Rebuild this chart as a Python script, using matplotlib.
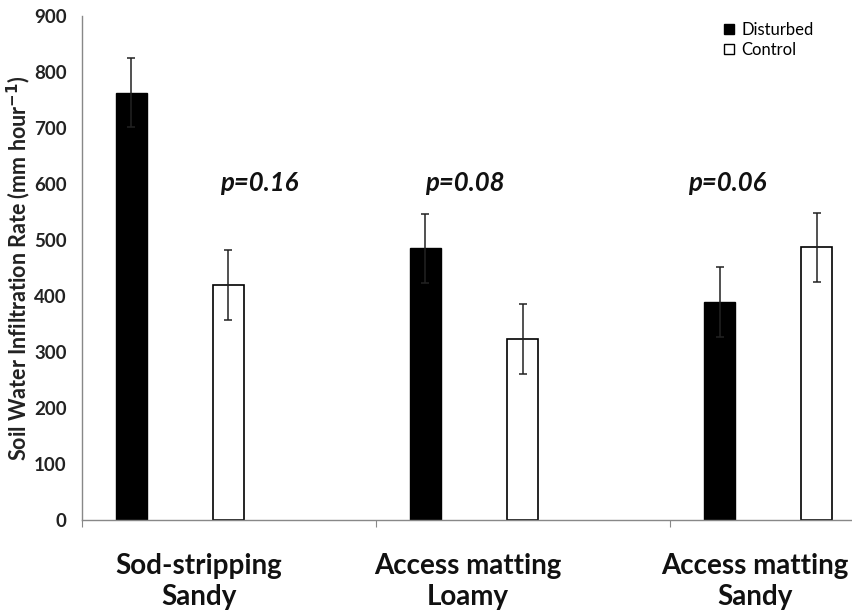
import matplotlib
matplotlib.use("Agg")
import matplotlib.pyplot as plt
from matplotlib.lines import Line2D
import numpy as np

# Treatment / soil groups
categories = ["Sod-stripping\nSandy", "Access matting\nLoamy", "Access matting\nSandy"]
disturbed = [763, 485, 389]
disturbed_err = [62, 61, 63]
control = [420, 323, 487]
control_err = [62, 62, 62]
p_labels = ["p=0.16", "p=0.08", "p=0.06"]

plt.rcParams['font.family'] = ['Lato', 'DejaVu Sans']

fig = plt.figure(figsize=(8.52, 6.14), dpi=100)
ax = fig.add_axes([0.0962, 0.153, 0.904, 0.821])

x = np.arange(len(categories))
offset = 0.165
width = 0.105

err_kw = dict(ecolor='#222222', elinewidth=1.1, capsize=3, capthick=1.1)
ax.bar(x - offset, disturbed, width, yerr=disturbed_err, color='black',
       edgecolor='black', linewidth=1, error_kw=err_kw, zorder=2)
ax.bar(x + offset, control, width, yerr=control_err, color='white',
       edgecolor='black', linewidth=1.2, error_kw=err_kw, zorder=2)

# p-values, placed between the bars of each group
p_x = [0.27, 0.97, 1.86]
for px, label in zip(p_x, p_labels):
    ax.text(px, 602, label, ha='center', va='center', fontsize=18.5,
            fontweight='bold', fontstyle='italic', color='#111111')

ax.set_xlim(-0.333, 2.286)
ax.set_ylim(0, 900)
ax.set_yticks(range(0, 901, 100))
ax.tick_params(axis='y', length=0, pad=11, labelsize=13.5)
for lbl in ax.get_yticklabels():
    lbl.set_fontweight('bold')
    lbl.set_color('#222222')

# tick marks between groups, labels under each group
ax.set_xticks([-0.333, 0.667, 1.667])
ax.set_xticklabels([])
ax.tick_params(axis='x', direction='out', length=5, color='#888888')
label_x = [0.065, 0.98, 1.956]
for lx, cat in zip(label_x, categories):
    ax.text(lx, -0.066, cat, transform=ax.get_xaxis_transform(), ha='center',
            va='top', fontsize=20, fontweight='bold', color='#111111',
            linespacing=1.2)

for side in ['top', 'right']:
    ax.spines[side].set_visible(False)
for side in ['left', 'bottom']:
    ax.spines[side].set_color('#888888')
    ax.spines[side].set_linewidth(1)

ax.set_ylabel('Soil Water Infiltration Rate (mm hour$^{\\mathbf{-1}}$)',
              fontsize=15.5, fontweight='bold', color='#222222')
ax.yaxis.set_label_coords(-0.064, 0.5)

handles = [
    Line2D([], [], marker='s', linestyle='none', markersize=6.5,
           markerfacecolor='black', markeredgecolor='black'),
    Line2D([], [], marker='s', linestyle='none', markersize=6.5,
           markerfacecolor='white', markeredgecolor='black'),
]
ax.legend(handles, ['Disturbed', 'Control'], loc='upper left',
          bbox_to_anchor=(0.812, 1.018), frameon=False, fontsize=12,
          handlelength=0.8, handletextpad=0.35, labelspacing=0.25)

fig.savefig('out.png', dpi=100)
